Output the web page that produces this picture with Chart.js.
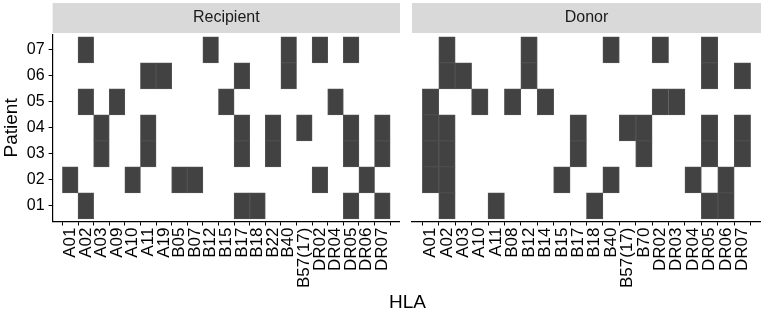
<!DOCTYPE html>
<html>
<head>
<meta charset="utf-8">
<script src="https://cdn.jsdelivr.net/npm/chart.js@4.4.1/dist/chart.umd.min.js"></script>
<style>
  body { margin: 0; background: #fff; }
  #wrap { position: relative; width: 765px; height: 313px; font-family: 'Liberation Sans', Arial, sans-serif; }
  #c1 { position: absolute; left: 0; top: 0; }
  #c2 { position: absolute; left: 405px; top: 0; }
  #xtitle { position: absolute; left: 53px; width: 709px; top: 291px; text-align: center; font-size: 19px; color: #000; }
</style>
</head>
<body>
<div id="wrap">
  <canvas id="c1" width="405" height="313"></canvas>
  <canvas id="c2" width="360" height="313"></canvas>
  <div id="xtitle">HLA</div>
</div>
<script>
const patients = ['01', '02', '03', '04', '05', '06', '07'];
const recipientHLA = ['A01', 'A02', 'A03', 'A09', 'A10', 'A11', 'A19', 'B05', 'B07', 'B12', 'B15',
  'B17', 'B18', 'B22', 'B40', 'B57(17)', 'DR02', 'DR04', 'DR05', 'DR06', 'DR07'];
const donorHLA = ['A01', 'A02', 'A03', 'A10', 'A11', 'B08', 'B12', 'B14', 'B15', 'B17', 'B18',
  'B40', 'B57(17)', 'B70', 'DR02', 'DR03', 'DR04', 'DR05', 'DR06', 'DR07'];

// recipient typing per patient
const rec01 = ['A02', 'B17', 'B18', 'DR05', 'DR07'];
const rec02 = ['A01', 'A10', 'B05', 'B07', 'DR02', 'DR06'];
const rec03 = ['A03', 'A11', 'B17', 'B22', 'DR05', 'DR07'];
const rec04 = ['A03', 'A11', 'B17', 'B22', 'B57(17)', 'DR05', 'DR07'];
const rec05 = ['A02', 'A09', 'B15', 'DR04'];
const rec06 = ['A11', 'A19', 'B17', 'B40'];
const rec07 = ['A02', 'B12', 'B40', 'DR02', 'DR05'];

// donor typing per patient
const don01 = ['A02', 'A11', 'B18', 'DR05', 'DR06'];
const don02 = ['A01', 'A02', 'B15', 'B40', 'DR04', 'DR06'];
const don03 = ['A01', 'A02', 'B17', 'B70', 'DR05', 'DR07'];
const don04 = ['A01', 'A02', 'B17', 'B57(17)', 'B70', 'DR05', 'DR07'];
const don05 = ['A01', 'A10', 'B08', 'B14', 'DR02', 'DR03'];
const don06 = ['A02', 'A03', 'B12', 'DR05', 'DR07'];
const don07 = ['A02', 'B12', 'B40', 'DR02', 'DR05'];

const recipientRows = [rec01, rec02, rec03, rec04, rec05, rec06, rec07];
const donorRows = [don01, don02, don03, don04, don05, don06, don07];

function tiles(rows, hla) {
  const out = [];
  rows.forEach((list, r) => {
    list.forEach((h) => {
      out.push({ x: hla.indexOf(h), y: [r + 0.5, r + 1.5] });
    });
  });
  return out;
}

const font = 'Liberation Sans';

const stripPlugin = {
  id: 'strip',
  beforeDraw(chart) {
    const { ctx, chartArea } = chart;
    ctx.save();
    ctx.fillStyle = '#d9d9d9';
    ctx.fillRect(chartArea.left, 3, chartArea.right - chartArea.left, 30);
    ctx.restore();
  }
};

function makeChart(id, title, hla, rows, showY, pad) {
  return new Chart(document.getElementById(id), {
    type: 'bar',
    data: {
      datasets: [{
        data: tiles(rows, hla),
        backgroundColor: '#424242',
        borderColor: '#555555',
        borderWidth: 0.8,
        borderSkipped: false,
        barPercentage: 1,
        categoryPercentage: 1,
        grouped: false
      }]
    },
    options: {
      responsive: false,
      animation: false,
      events: [],
      layout: { padding: pad },
      plugins: {
        legend: { display: false },
        tooltip: { enabled: false },
        title: {
          display: true,
          text: title,
          fullSize: false,
          color: '#1a1a1a',
          font: { family: font, size: 16, weight: 'normal' },
          padding: { top: 5, bottom: 7 }
        }
      },
      scales: {
        x: {
          type: 'linear',
          min: -0.6,
          max: hla.length - 0.4,
          afterBuildTicks: (axis) => { axis.ticks = hla.map((h, i) => ({ value: i })); },
          ticks: {
            autoSkip: false,
            maxRotation: 90,
            minRotation: 90,
            padding: 2,
            color: '#000',
            font: { family: font, size: 17 },
            callback: (v) => hla[v]
          },
          grid: { display: true, drawOnChartArea: false, drawTicks: true, tickLength: 4, color: '#000', lineWidth: 1 },
          border: { display: true, color: '#000', width: 1.2 }
        },
        y: {
          type: 'linear',
          display: showY,
          min: 0.4,
          max: 7.6,
          afterBuildTicks: (axis) => { axis.ticks = patients.map((p, i) => ({ value: i + 1 })); },
          title: {
            display: true,
            text: 'Patient',
            color: '#000',
            font: { family: font, size: 19 },
            padding: { top: 0, bottom: 0 }
          },
          ticks: {
            padding: 4,
            color: '#000',
            font: { family: font, size: 16 },
            callback: (v) => patients[v - 1]
          },
          grid: { display: true, drawOnChartArea: false, drawTicks: true, tickLength: 4, color: '#000', lineWidth: 1 },
          border: { display: true, color: '#000', width: 1.2 }
        }
      }
    },
    plugins: [stripPlugin]
  });
}

makeChart('c1', 'Recipient', recipientHLA, recipientRows, true, { left: 0, right: 2, top: 3, bottom: 23 });
makeChart('c2', 'Donor', donorHLA, donorRows, false, { left: 7, right: 3, top: 3, bottom: 23 });
</script>
</body>
</html>
